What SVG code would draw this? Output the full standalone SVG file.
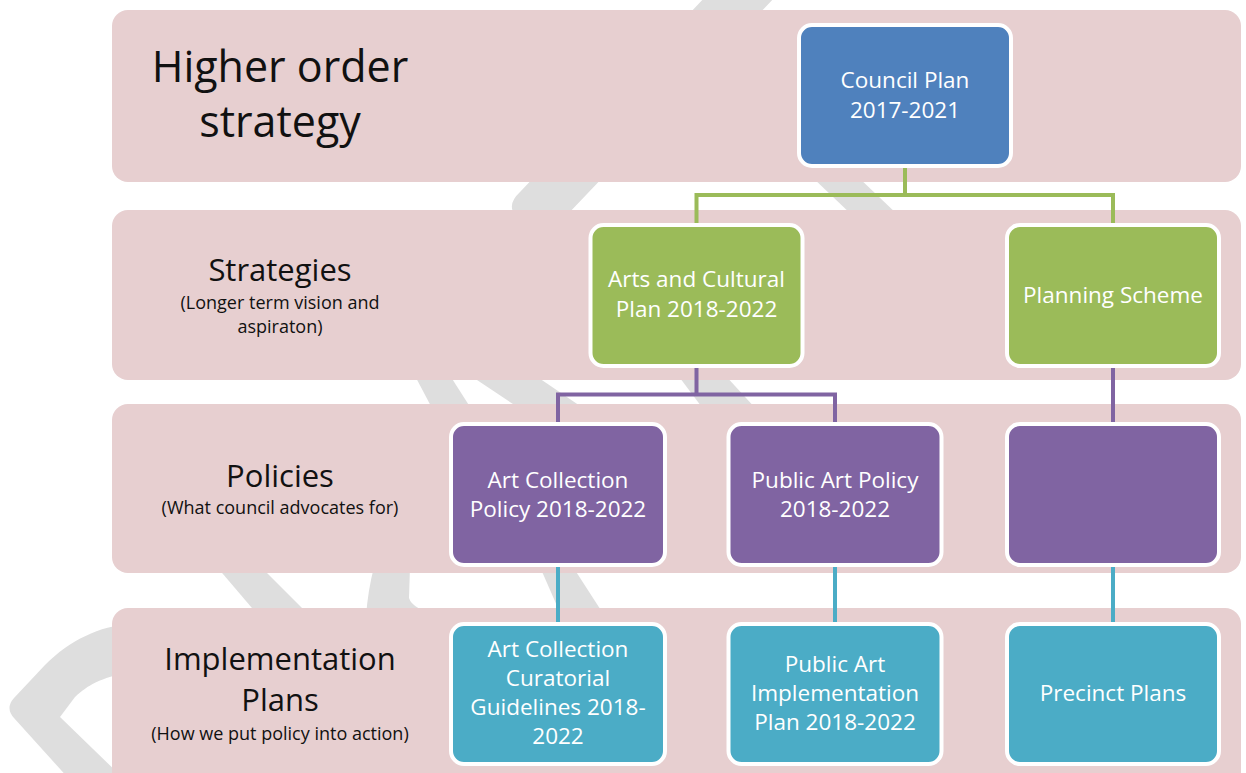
<svg xmlns="http://www.w3.org/2000/svg" width="1246" height="773" viewBox="0 0 1246 773">
<style>
.bg{fill:#ffffff}
.gray{fill:#DEDEDE}
.band{fill:#E7CFD0}
.lbl{font-family:"Open Sans","Liberation Sans",sans-serif;fill:#111111;text-anchor:middle}
.big{font-size:43px}
.mid{font-size:31px}
.sm{font-size:18px}
.box{stroke:#ffffff;stroke-width:4}
.blue{fill:#4F81BD}
.green{fill:#9BBB59}
.purple{fill:#8064A2}
.teal{fill:#4BACC6}
.nt{font-family:"Open Sans","Liberation Sans",sans-serif;font-size:22.5px;fill:#ffffff;text-anchor:middle}
.c{fill:none;stroke-width:4;stroke-linejoin:miter}
.cg{stroke:#9BBB59}
.cp{stroke:#8064A2}
.ct{stroke:#4BACC6}
</style>
<rect class="bg" x="0" y="0" width="1246" height="773"/>
<g id="background-arrows">
<path class="gray" d="M707,-5 L777,-5 L566,216 L516,216 Q506,205 520,192 Z"/>
<path class="gray" d="M811,176 L857,176 L899,216 L853,216 Z"/>
<path class="gray" d="M414,374 L449,374 L472,410 L433,410 Z"/>
<path class="gray" d="M468,374 L533,374 L586,410 L522,410 Z"/>
<path class="gray" d="M677,374 L724,374 L757,410 L704,410 Z"/>
<path class="gray" d="M217,567 L261,567 L309,615 L258,615 Z"/>
<path class="gray" d="M374,567 L410,567 L409,598 Q412,609 440,616 L366,616 Q368,590 374,567 Z"/>
<path class="gray" d="M540,567 L573,567 L604,615 L561,615 Z"/>
<path class="gray" d="M130,624 C100,626 70,640 45,665 L14,698 Q5,708 14,718 L70,780 L125,780 L60,717 L75,697 C88,685 100,678 130,672 Z"/>
</g>
<g id="band-higher-order">
<rect class="band" x="112" y="10" width="1129" height="172" rx="16"/>
<text class="lbl big" x="280" y="82">Higher order</text>
<text class="lbl big" x="280" y="137">strategy</text>
</g>
<g id="band-strategies">
<rect class="band" x="112" y="210" width="1129" height="170" rx="16"/>
<text class="lbl mid" x="280" y="281">Strategies</text>
<text class="lbl sm" x="280" y="309">(Longer term vision and</text>
<text class="lbl sm" x="280" y="333">aspiraton)</text>
</g>
<g id="band-policies">
<rect class="band" x="112" y="404" width="1129" height="169" rx="16"/>
<text class="lbl mid" x="280" y="487">Policies</text>
<text class="lbl sm" x="280" y="514">(What council advocates for)</text>
</g>
<g id="band-implementation">
<rect class="band" x="112" y="608" width="1129" height="180" rx="16"/>
<text class="lbl mid" x="280" y="670">Implementation</text>
<text class="lbl mid" x="280" y="711">Plans</text>
<text class="lbl sm" x="280" y="740">(How we put policy into action)</text>
</g>
<g id="connectors">
<path class="c cg" d="M905,168 V195 H696.5 V225 M905,195 H1113 V225"/>
<path class="c cp" d="M696.5,367 V394.5 H558 V424 M696.5,394.5 H835 V424"/>
<path class="c cp" d="M1113,367 V424"/>
<path class="c ct" d="M558,565 V624"/>
<path class="c ct" d="M835,565 V624"/>
<path class="c ct" d="M1113,565 V624"/>
</g>
<g id="node-council-plan">
<rect class="box blue" x="799" y="25" width="212" height="141" rx="13"/>
<text class="nt" x="905" y="88">Council Plan</text>
<text class="nt" x="905" y="118">2017-2021</text>
</g>
<g id="node-arts-cultural-plan">
<rect class="box green" x="590.5" y="225" width="212" height="141" rx="13"/>
<text class="nt" x="696.5" y="287">Arts and Cultural</text>
<text class="nt" x="696.5" y="317">Plan 2018-2022</text>
</g>
<g id="node-planning-scheme">
<rect class="box green" x="1007" y="225" width="212" height="141" rx="13"/>
<text class="nt" x="1113" y="303">Planning Scheme</text>
</g>
<g id="node-art-collection-policy">
<rect class="box purple" x="451" y="424" width="214" height="141" rx="13"/>
<text class="nt" x="558" y="488">Art Collection</text>
<text class="nt" x="558" y="517">Policy 2018-2022</text>
</g>
<g id="node-public-art-policy">
<rect class="box purple" x="728.5" y="424" width="213" height="141" rx="13"/>
<text class="nt" x="835" y="488">Public Art Policy</text>
<text class="nt" x="835" y="517">2018-2022</text>
</g>
<g id="node-policy-empty">
<rect class="box purple" x="1007" y="424" width="212" height="141" rx="13"/>
</g>
<g id="node-art-collection-guidelines">
<rect class="box teal" x="451" y="624" width="214" height="140" rx="13"/>
<text class="nt" x="558" y="657">Art Collection</text>
<text class="nt" x="558" y="686">Curatorial</text>
<text class="nt" x="558" y="715">Guidelines 2018-</text>
<text class="nt" x="558" y="744">2022</text>
</g>
<g id="node-public-art-implementation">
<rect class="box teal" x="728.5" y="624" width="213" height="140" rx="13"/>
<text class="nt" x="835" y="672">Public Art</text>
<text class="nt" x="835" y="701">Implementation</text>
<text class="nt" x="835" y="730">Plan 2018-2022</text>
</g>
<g id="node-precinct-plans">
<rect class="box teal" x="1007" y="624" width="212" height="140" rx="13"/>
<text class="nt" x="1113" y="701">Precinct Plans</text>
</g>
</svg>
